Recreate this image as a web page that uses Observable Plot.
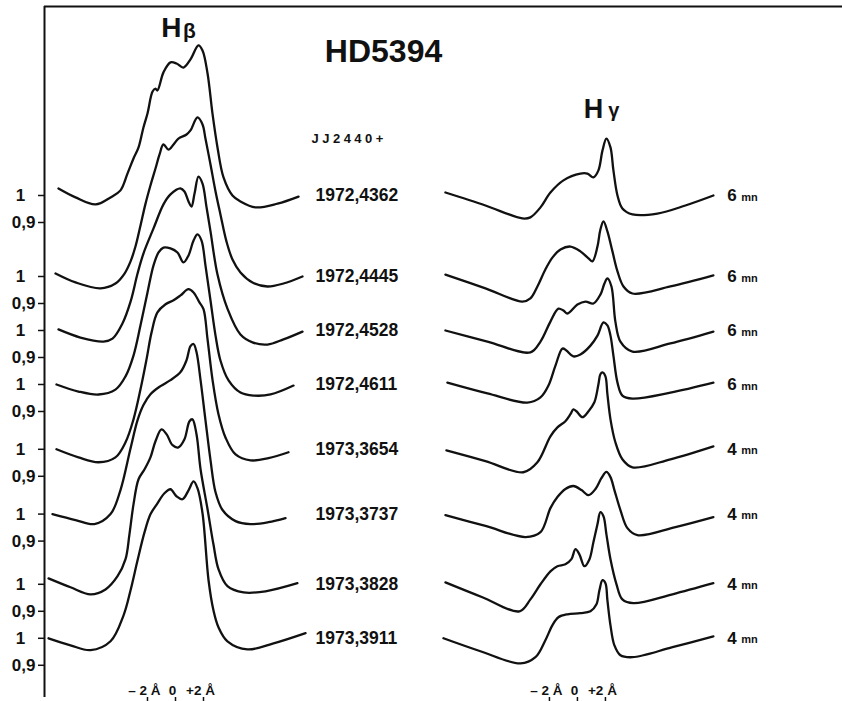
<!DOCTYPE html>
<html><head><meta charset="utf-8">
<script src="https://cdn.jsdelivr.net/npm/d3@7"></script>
<script src="https://cdn.jsdelivr.net/npm/@observablehq/plot@0.6"></script>
<style>body{margin:0;background:#fff}</style>
</head><body><div id="chart"></div>
<script>
// Julian dates (JJ 2440000+) and exposure times (mn)
const dates = ["1972,4362","1972,4445","1972,4528","1972,4611","1973,3654","1973,3737","1973,3828","1973,3911"];
const exposures = ["6","6","6","6","4","4","4","4"];
// vertical stacking offset of each spectrum (flux units)
const offsets = [0, 0.30, 0.50, 0.70, 0.94, 1.18, 1.44, 1.64];
// axis tick values (Å) and labels
const lambdaTicks = [-2, 0, 2];
const lambdaLabels = ["\u2013 2 Å", "0", "+2 Å"];

// Hβ profiles: [Δλ (Å), relative flux]
const hb1 = [[-8.36,1.026],[-7.14,0.993],[-5.71,0.967],[-4.64,0.993],[-3.93,1.019],[-3.43,1.081],[-3.0,1.137],[-2.64,1.178],[-2.29,1.252],[-2.0,1.304],[-1.64,1.385],[-1.43,1.396],[-1.29,1.389],[-0.86,1.456],[-0.36,1.493],[0.07,1.489],[0.57,1.474],[1.07,1.504],[1.64,1.556],[1.93,1.537],[2.29,1.452],[2.64,1.304],[3.0,1.178],[3.43,1.067],[4.07,1.0],[4.64,0.978],[5.71,0.956],[7.29,0.970],[8.79,0.996]];
const hb2 = [[-8.57,1.011],[-7.14,0.978],[-5.36,0.956],[-4.29,0.974],[-3.64,1.011],[-3.21,1.056],[-2.86,1.111],[-2.5,1.189],[-2.14,1.270],[-1.79,1.337],[-1.43,1.4],[-1.14,1.452],[-0.86,1.489],[-0.5,1.470],[-0.14,1.489],[0.21,1.511],[0.79,1.526],[1.07,1.541],[1.57,1.589],[1.93,1.563],[2.14,1.511],[2.5,1.415],[2.86,1.315],[3.21,1.230],[3.64,1.130],[4.07,1.063],[4.64,1.015],[5.5,0.978],[6.57,0.963],[7.71,0.974],[9.07,1.0]];
const hb3 = [[-8.36,1.004],[-6.79,0.974],[-5.14,0.959],[-4.5,0.970],[-3.79,1.026],[-3.21,1.107],[-2.71,1.211],[-2.29,1.285],[-1.57,1.378],[-0.86,1.467],[-0.36,1.504],[0.36,1.526],[0.64,1.515],[0.93,1.478],[1.14,1.459],[1.36,1.507],[1.64,1.570],[1.93,1.544],[2.21,1.459],[2.5,1.367],[3.0,1.207],[3.71,1.081],[4.64,0.985],[5.5,0.956],[6.57,0.948],[7.71,0.967],[9.07,0.996]];
const hb4 = [[-8.5,1.0],[-6.93,0.974],[-5.5,0.963],[-4.29,0.981],[-3.57,1.030],[-3.0,1.107],[-2.5,1.219],[-2.0,1.341],[-1.57,1.441],[-1.21,1.489],[-0.86,1.507],[-0.36,1.504],[0.14,1.489],[0.57,1.452],[0.93,1.478],[1.29,1.533],[1.57,1.556],[1.86,1.533],[2.14,1.441],[2.5,1.311],[2.86,1.181],[3.21,1.089],[3.79,1.015],[4.64,0.970],[5.57,0.959],[6.79,0.963],[8.43,0.996]];
const hb5 = [[-8.5,1.0],[-6.93,0.970],[-5.5,0.952],[-4.29,0.970],[-3.57,1.026],[-3.0,1.111],[-2.5,1.222],[-2.07,1.333],[-1.71,1.433],[-1.29,1.507],[-0.71,1.537],[-0.14,1.552],[0.36,1.570],[0.93,1.593],[1.29,1.581],[1.71,1.544],[2.0,1.519],[2.29,1.407],[2.64,1.259],[3.07,1.130],[3.57,1.044],[4.29,0.981],[5.36,0.959],[6.64,0.967],[8.07,0.989]];
const hb6 = [[-8.79,1.0],[-7.14,0.978],[-5.79,0.963],[-4.64,1.0],[-3.93,1.089],[-3.21,1.244],[-2.71,1.348],[-2.29,1.404],[-1.79,1.444],[-1.07,1.474],[-0.36,1.496],[0.36,1.526],[0.79,1.570],[1.07,1.622],[1.29,1.630],[1.5,1.6],[1.79,1.496],[2.14,1.348],[2.5,1.2],[2.86,1.081],[3.36,1.015],[4.29,0.974],[5.36,0.963],[6.64,0.970],[7.86,0.985]];
const hb7 = [[-9.07,1.022],[-7.5,0.989],[-6.07,0.963],[-5.0,0.981],[-4.14,1.030],[-3.57,1.093],[-3.29,1.185],[-3.0,1.296],[-2.64,1.389],[-2.21,1.426],[-1.79,1.470],[-1.43,1.530],[-1.0,1.574],[-0.64,1.556],[-0.21,1.515],[0.21,1.507],[0.64,1.537],[1.0,1.604],[1.21,1.611],[1.5,1.556],[1.79,1.426],[2.29,1.278],[2.71,1.148],[3.07,1.056],[3.71,0.993],[4.86,0.970],[6.43,0.974],[8.71,1.004]];
const hb8 = [[-9.07,1.0],[-7.5,0.974],[-6.07,0.956],[-4.64,0.989],[-3.71,1.085],[-3.21,1.178],[-2.71,1.289],[-2.21,1.393],[-1.79,1.459],[-1.29,1.5],[-0.79,1.537],[-0.36,1.552],[0.07,1.526],[0.5,1.515],[0.93,1.548],[1.29,1.581],[1.57,1.556],[1.93,1.463],[2.36,1.215],[2.71,1.104],[3.07,1.041],[3.71,0.989],[5.14,0.959],[7.0,0.981],[9.29,1.019]];

// Hγ profiles: [Δλ (Å), relative flux]
const hg1 = [[-9.43,1.011],[-6.57,0.963],[-3.93,0.915],[-3.36,0.919],[-2.64,0.956],[-1.93,1.011],[-1.0,1.056],[0.21,1.081],[0.71,1.081],[1.14,1.067],[1.5,1.093],[1.79,1.167],[2.07,1.211],[2.36,1.178],[2.57,1.093],[2.86,1.0],[3.21,0.952],[3.93,0.930],[5.71,0.933],[7.71,0.963],[9.71,1.0]];
const hg2 = [[-9.43,1.007],[-6.57,0.956],[-3.93,0.907],[-3.36,0.919],[-2.86,0.963],[-2.29,1.026],[-1.79,1.070],[-1.21,1.1],[-0.5,1.111],[0.21,1.093],[0.79,1.067],[1.07,1.056],[1.43,1.111],[1.64,1.174],[1.86,1.204],[2.14,1.167],[2.5,1.093],[2.86,1.019],[3.29,0.963],[3.93,0.937],[6.64,0.963],[9.71,1.004]];
const hg3 = [[-9.43,1.0],[-6.43,0.959],[-3.36,0.919],[-2.64,0.959],[-1.93,1.033],[-1.36,1.081],[-1.0,1.074],[-0.71,1.063],[0.0,1.096],[0.57,1.107],[1.14,1.1],[1.64,1.133],[1.93,1.174],[2.14,1.193],[2.43,1.163],[2.71,1.033],[3.07,0.959],[3.93,0.922],[6.64,0.952],[9.71,0.996]];
const hg4 = [[-9.29,1.007],[-6.43,0.967],[-3.57,0.933],[-2.64,0.952],[-2.07,0.996],[-1.57,1.070],[-1.07,1.133],[-0.79,1.126],[-0.29,1.104],[0.21,1.111],[0.93,1.144],[1.43,1.181],[1.86,1.230],[2.14,1.219],[2.36,1.181],[2.57,1.107],[2.86,1.007],[3.21,0.959],[3.93,0.948],[6.64,0.970],[9.71,1.007]];
const hg5 = [[-9.36,0.996],[-6.57,0.956],[-3.86,0.915],[-2.86,0.952],[-1.93,1.048],[-1.43,1.081],[-0.86,1.104],[-0.5,1.130],[-0.29,1.148],[-0.07,1.141],[0.36,1.119],[0.79,1.141],[1.21,1.174],[1.5,1.241],[1.64,1.278],[1.79,1.285],[2.0,1.270],[2.14,1.204],[2.36,1.111],[2.71,1.026],[3.21,0.963],[3.93,0.933],[6.64,0.963],[9.71,1.011]];
const hg6 = [[-9.43,0.996],[-6.57,0.956],[-3.71,0.915],[-2.64,0.933],[-1.93,1.022],[-1.43,1.063],[-0.86,1.093],[-0.29,1.104],[0.29,1.089],[0.79,1.070],[1.29,1.093],[1.71,1.133],[2.07,1.156],[2.36,1.137],[2.64,1.089],[3.07,1.015],[3.57,0.948],[4.29,0.922],[7.0,0.952],[9.71,0.989]];
const hg7 = [[-9.43,1.007],[-6.79,0.952],[-4.14,0.9],[-3.36,0.944],[-2.64,1.0],[-1.93,1.048],[-1.43,1.067],[-0.86,1.074],[-0.43,1.093],[-0.14,1.130],[0.14,1.111],[0.5,1.067],[0.86,1.093],[1.14,1.156],[1.43,1.222],[1.64,1.267],[1.86,1.252],[2.07,1.185],[2.36,1.093],[2.79,1.0],[3.21,0.944],[4.0,0.930],[6.79,0.963],[9.71,1.004]];
const hg8 = [[-9.57,1.0],[-6.93,0.952],[-4.07,0.907],[-3.0,0.930],[-2.29,0.993],[-1.79,1.048],[-1.36,1.078],[-0.71,1.089],[0.21,1.093],[0.93,1.1],[1.36,1.126],[1.57,1.178],[1.79,1.215],[2.0,1.204],[2.14,1.141],[2.36,1.048],[2.64,0.974],[3.07,0.937],[3.93,0.930],[6.79,0.967],[9.71,1.007]];

const hbeta = [hb1,hb2,hb3,hb4,hb5,hb6,hb7,hb8];
const hgamma = [hg1,hg2,hg3,hg4,hg5,hg6,hg7,hg8];

// layout: the Hγ panel sits to the right along the same Å axis
const hgShift = 28.71;
const xDomain = [-9.357, 47.643];
const yDomain = [-0.8593, 1.7];

const rows = [];
hbeta.forEach((c, i) => c.forEach(([l, f]) => rows.push({x: l, y: f - offsets[i], id: "b" + i})));
hgamma.forEach((c, i) => c.forEach(([l, f]) => rows.push({x: l + hgShift, y: f - offsets[i], id: "g" + i})));

const yTicks = offsets.flatMap(o => [1 - o, 0.9 - o]);
const xTicks = [...lambdaTicks, ...lambdaTicks.map(t => t + hgShift)];
const xLabelRows = [...lambdaTicks.map((t, i) => ({x: t, t: lambdaLabels[i]})),
                    ...lambdaTicks.map((t, i) => ({x: t + hgShift, t: lambdaLabels[i]}))];

const ink = "#111";
const bold = {fontWeight: "bold", fill: ink};

const chart = Plot.plot({
  width: 842, height: 701,
  marginLeft: 44, marginTop: 6, marginRight: 0, marginBottom: 4,
  x: {domain: xDomain},
  y: {domain: yDomain},
  style: {fontFamily: "'Liberation Sans', Arial, Helvetica, sans-serif", background: "white", color: ink},
  marks: [
    Plot.ruleX([xDomain[0]], {stroke: ink, strokeWidth: 2}),
    Plot.ruleY([yDomain[1]], {stroke: ink, strokeWidth: 2}),
    Plot.axisY({ticks: yTicks, tickSize: 6, tickFormat: () => "", label: null, strokeWidth: 1.5}),
    Plot.axisX({ticks: xTicks, tickSize: 4, tickFormat: () => "", label: null, strokeWidth: 1.5}),
    Plot.line(rows, {x: "x", y: "y", z: "id", curve: "catmull-rom", stroke: ink, strokeWidth: 2.3, strokeLinejoin: "round", strokeLinecap: "round"}),
    // y tick labels
    Plot.text(offsets, {frameAnchor: "left", y: o => 1 - o, text: () => "1", dx: -24, textAnchor: "middle", fontSize: 17, ...bold}),
    Plot.text(offsets, {frameAnchor: "left", y: o => 0.9 - o, text: () => "0,9", dx: -9, textAnchor: "end", fontSize: 17, ...bold}),
    // date labels
    Plot.text(dates, {x: () => 10, y: (d, i) => 1 - offsets[i], text: d => d, textAnchor: "start", fontSize: 17.5, ...bold}),
    // exposure labels
    Plot.text(exposures, {x: () => hgShift + 10.7, y: (d, i) => 1 - offsets[i], text: d => d, textAnchor: "start", fontSize: 17, ...bold}),
    Plot.text(exposures, {x: () => hgShift + 10.7, y: (d, i) => 1 - offsets[i], text: () => "mn", dx: 14, dy: 1.5, textAnchor: "start", fontSize: 11, ...bold}),
    // wavelength labels
    Plot.text(xLabelRows, {x: "x", y: () => -0.8333, text: "t", dx: -3, fontSize: 13.5, ...bold}),
    // titles
    Plot.text(["H"], {x: () => -0.29, y: () => 1.6185, text: d => d, fontSize: 28, ...bold}),
    Plot.text(["\u03B2"], {x: () => 1.0, y: () => 1.61, text: d => d, fontSize: 21, ...bold}),
    Plot.text(["HD5394"], {x: () => 14.86, y: () => 1.5333, text: d => d, fontSize: 32, ...bold}),
    Plot.text(["JJ2440+"], {x: () => 9.71, y: () => 1.2111, text: d => d, textAnchor: "start", fontSize: 13, ...bold}),
    Plot.text(["H"], {x: () => 29.86, y: () => 1.3185, text: d => d, fontSize: 27, ...bold}),
    Plot.text(["\u03B3"], {x: () => 31.3, y: () => 1.315, text: d => d, fontSize: 20, ...bold})
  ]
});
d3.select(chart).selectAll("text").filter(function () { return this.textContent === "JJ2440+"; }).attr("letter-spacing", "3.5px");
document.getElementById("chart").appendChild(chart);
</script>
</body></html>
